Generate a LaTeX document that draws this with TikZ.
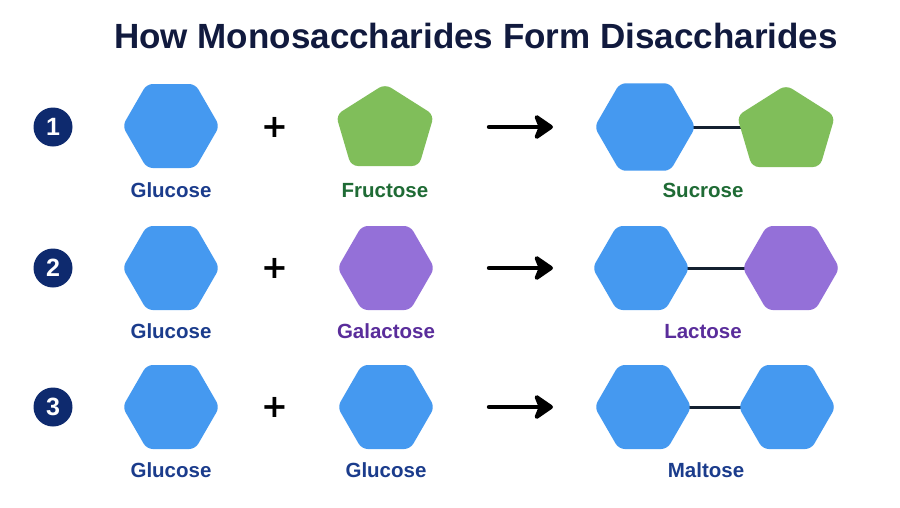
\documentclass[tikz,border=0pt]{standalone}
\usepackage{fontspec}
\setmainfont{Liberation Sans}
\newfontfamily\plusfont{DejaVu Sans}
\usetikzlibrary{shapes.geometric,arrows.meta,backgrounds,calc}
\definecolor{glublue}{HTML}{4599F0}
\definecolor{frugreen}{HTML}{80BE5A}
\definecolor{galpurple}{HTML}{9470D8}
\definecolor{titlecol}{HTML}{111A3E}
\definecolor{glulab}{HTML}{1B3C8C}
\definecolor{frulab}{HTML}{1F6B35}
\definecolor{gallab}{HTML}{5A2D9B}
\definecolor{numcol}{HTML}{0E2A6E}
\definecolor{linkcol}{HTML}{142030}
\tikzset{
  hexa/.style={regular polygon, regular polygon sides=6, minimum size=#1, inner sep=0pt, rounded corners=6pt, draw=none},
  glu/.style={hexa=97pt, fill=glublue},
  gal/.style={hexa=97pt, fill=galpurple},
  lab/.style={font=\fontsize{20.5}{22}\selectfont\bfseries, anchor=base},
  numc/.style={circle, fill=numcol, minimum size=39pt, inner sep=0pt, text=white, font=\fontsize{25}{25}\selectfont\bfseries},
  plussign/.style={font=\plusfont\fontsize{32}{32}\selectfont\bfseries, text=black, inner sep=0pt},
  reacarrow/.style={line width=4.4pt, line cap=round, -{Stealth[length=22pt,width=30pt,inset=6pt,round]}},
  link/.style={line width=3pt, draw=linkcol}
}
\newcommand{\pentshape}[3]{%
  \fill[frugreen, rounded corners=7pt] ($(#1,#2)+(0,-42)$) -- ($(#1,#2)+(49,-11)$) -- ($(#1,#2)+(34,40)$) -- ($(#1,#2)+(-34,40)$) -- ($(#1,#2)+(-49,-11)$) -- cycle;
  \coordinate (#3) at (#1,#2);}
\begin{document}
\begin{tikzpicture}[x=1pt,y=-1pt]
\useasboundingbox (0,0) rectangle (900,507);
\begin{scope}[on background layer]
\fill[white] (0,0) rectangle (900,507);
\end{scope}
\node[font=\fontsize{35}{36}\selectfont\bfseries, text=titlecol, anchor=base] (title) at (476,48) {How Monosaccharides Form Disaccharides};

% Row 1
\node[numc] (n1) at (53,127) {1};
\node[glu] (g1) at (171,126) {};
\node[plussign] (p1) at (275,127) {+};
\pentshape{385}{126}{f1}
\coordinate (a1s) at (489,127);
\coordinate (a1e) at (553,127);
\draw[reacarrow] (a1s) -- (a1e);
\pentshape{786}{127}{sf}
\node[glu, minimum size=101pt] (sg) at (645,127) {};
\begin{scope}[on background layer]
\draw[link] (sg.center) -- (sf);
\end{scope}
\node[lab, text=glulab] (l1a) at (171,197) {Glucose};
\node[lab, text=frulab] (l1b) at (385,197) {Fructose};
\node[lab, text=frulab] (l1c) at (703,197) {Sucrose};

% Row 2
\node[numc] (n2) at (53,268) {2};
\node[glu] (g2) at (171,268) {};
\node[plussign] (p2) at (275,268) {+};
\node[gal] (ga2) at (386,268) {};
\coordinate (a2s) at (489,268);
\coordinate (a2e) at (553,268);
\draw[reacarrow] (a2s) -- (a2e);
\node[glu] (lg) at (641,268) {};
\node[gal] (lga) at (791,268) {};
\begin{scope}[on background layer]
\draw[link] (lg.center) -- (lga.center);
\end{scope}
\node[lab, text=glulab] (l2a) at (171,338) {Glucose};
\node[lab, text=gallab] (l2b) at (386,338) {Galactose};
\node[lab, text=gallab] (l2c) at (703,338) {Lactose};

% Row 3
\node[numc] (n3) at (53,407) {3};
\node[glu] (g3) at (171,407) {};
\node[plussign] (p3) at (275,407) {+};
\node[glu] (g3b) at (386,407) {};
\coordinate (a3s) at (489,407);
\coordinate (a3e) at (553,407);
\draw[reacarrow] (a3s) -- (a3e);
\node[glu] (mg1) at (643,407) {};
\node[glu] (mg2) at (787,407) {};
\begin{scope}[on background layer]
\draw[link] (mg1.center) -- (mg2.center);
\end{scope}
\node[lab, text=glulab] (l3a) at (171,477) {Glucose};
\node[lab, text=glulab] (l3b) at (386,477) {Glucose};
\node[lab, text=glulab] (l3c) at (706,477) {Maltose};
\end{tikzpicture}
\end{document}
